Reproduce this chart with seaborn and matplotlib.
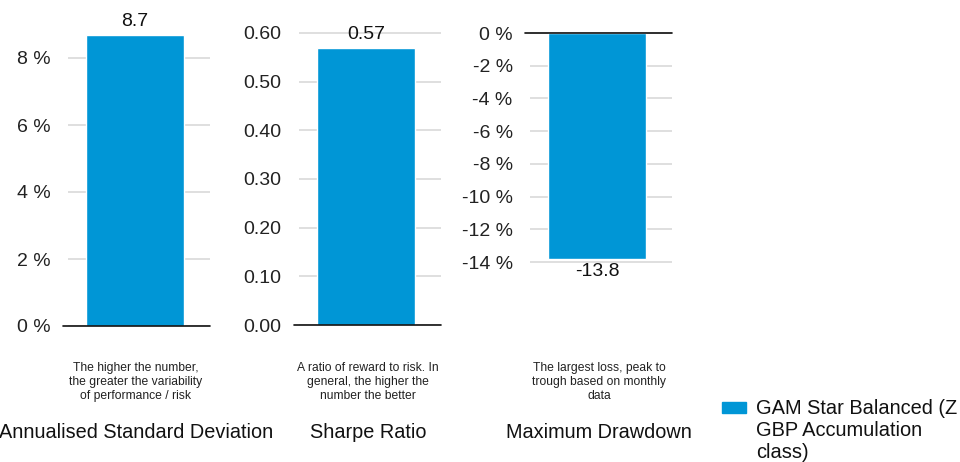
import matplotlib
matplotlib.use("Agg")
import matplotlib.pyplot as plt
import pandas as pd
import seaborn as sns

sns.set_style("white")
plt.rcParams['font.family'] = ['Liberation Sans', 'DejaVu Sans']

# data
fund = "GAM Star Balanced (Z\nGBP Accumulation\nclass)"
metrics = ["Annualised Standard Deviation", "Sharpe Ratio", "Maximum Drawdown"]
values = [8.7, 0.57, -13.8]
value_labels = ["8.7", "0.57", "-13.8"]
notes = ["The higher the number,\nthe greater the variability\nof performance / risk",
         "A ratio of reward to risk. In\ngeneral, the higher the\nnumber the better",
         "The largest loss, peak to\ntrough based on monthly\ndata"]
yticks = [[0, 2, 4, 6, 8], [0, 0.1, 0.2, 0.3, 0.4, 0.5, 0.6],
          [0, -2, -4, -6, -8, -10, -12, -14]]
ytick_labels = [["0 %", "2 %", "4 %", "6 %", "8 %"],
                ["0.00", "0.10", "0.20", "0.30", "0.40", "0.50", "0.60"],
                ["0 %", "-2 %", "-4 %", "-6 %", "-8 %", "-10 %", "-12 %", "-14 %"]]
ylims = [(0, 9), (0, 0.62), (-14.5, 0.6)]

blue = "#0096d6"
W, H = 960, 462
fig = plt.figure(figsize=(W / 100, H / 100), dpi=100)

# pixel boxes: left, top, bottom of each axes (gridline extent 142px)
boxes = [(68, 24.5, 326), (299, 23.2, 325), (530, 23.2, 270.2)]
centers = [136, 368, 599]

for i in range(3):
    left, top, bottom = boxes[i]
    ax = fig.add_axes([left / W, 1 - bottom / H, 142 / W, (bottom - top) / H])
    df = pd.DataFrame({"metric": [metrics[i]], "value": [values[i]]})
    sns.barplot(data=df, x="metric", y="value", color=blue, width=1.0,
                saturation=1, ax=ax, zorder=3)
    ax.set_xlim(-0.684, 0.765)
    ax.set_ylim(*ylims[i])
    ax.set_yticks(yticks[i])
    ax.set_yticklabels(ytick_labels[i], fontsize=14, color="#222222")
    ax.tick_params(axis="y", length=0, pad=12.5)
    ax.set_xticks([])
    ax.set_xlabel("")
    ax.set_ylabel("")
    for s in ax.spines.values():
        s.set_visible(False)
    ax.yaxis.grid(True, color="#d9d9d9", linewidth=1.2, zorder=0)
    ax.axhline(0, xmin=-5 / 142, xmax=1, color="#111111", linewidth=1.2,
               clip_on=False, zorder=4)
    if values[i] >= 0:
        ax.annotate(value_labels[i], (0, values[i]), xytext=(0, 3.5),
                    textcoords="offset points", ha="center", va="bottom",
                    fontsize=14, color="#111111", annotation_clip=False)
    else:
        ax.annotate(value_labels[i], (0, values[i]), xytext=(0, -3),
                    textcoords="offset points", ha="center", va="top",
                    fontsize=14, color="#111111", annotation_clip=False)

    cx = centers[i] / W
    fig.text(cx, 1 - 382 / H, notes[i], ha="center", va="center", fontsize=8.7,
             linespacing=1.2, color="#222222")
    fig.text(cx, 1 - 432 / H, metrics[i], ha="center", va="center",
             fontsize=14.3, color="#111111")

# legend
lax = fig.add_axes([0, 0, 1, 1], facecolor="none")
lax.set_axis_off()
lax.add_patch(plt.Rectangle((722 / W, 1 - 413 / H), 24 / W, 11 / H,
                            color=blue, transform=lax.transAxes))
lax.text(756 / W, 1 - 399.5 / H, fund, ha="left", va="top", fontsize=14.4,
         linespacing=1.2, color="#111111", transform=lax.transAxes)

fig.savefig("out.png", dpi=100)
